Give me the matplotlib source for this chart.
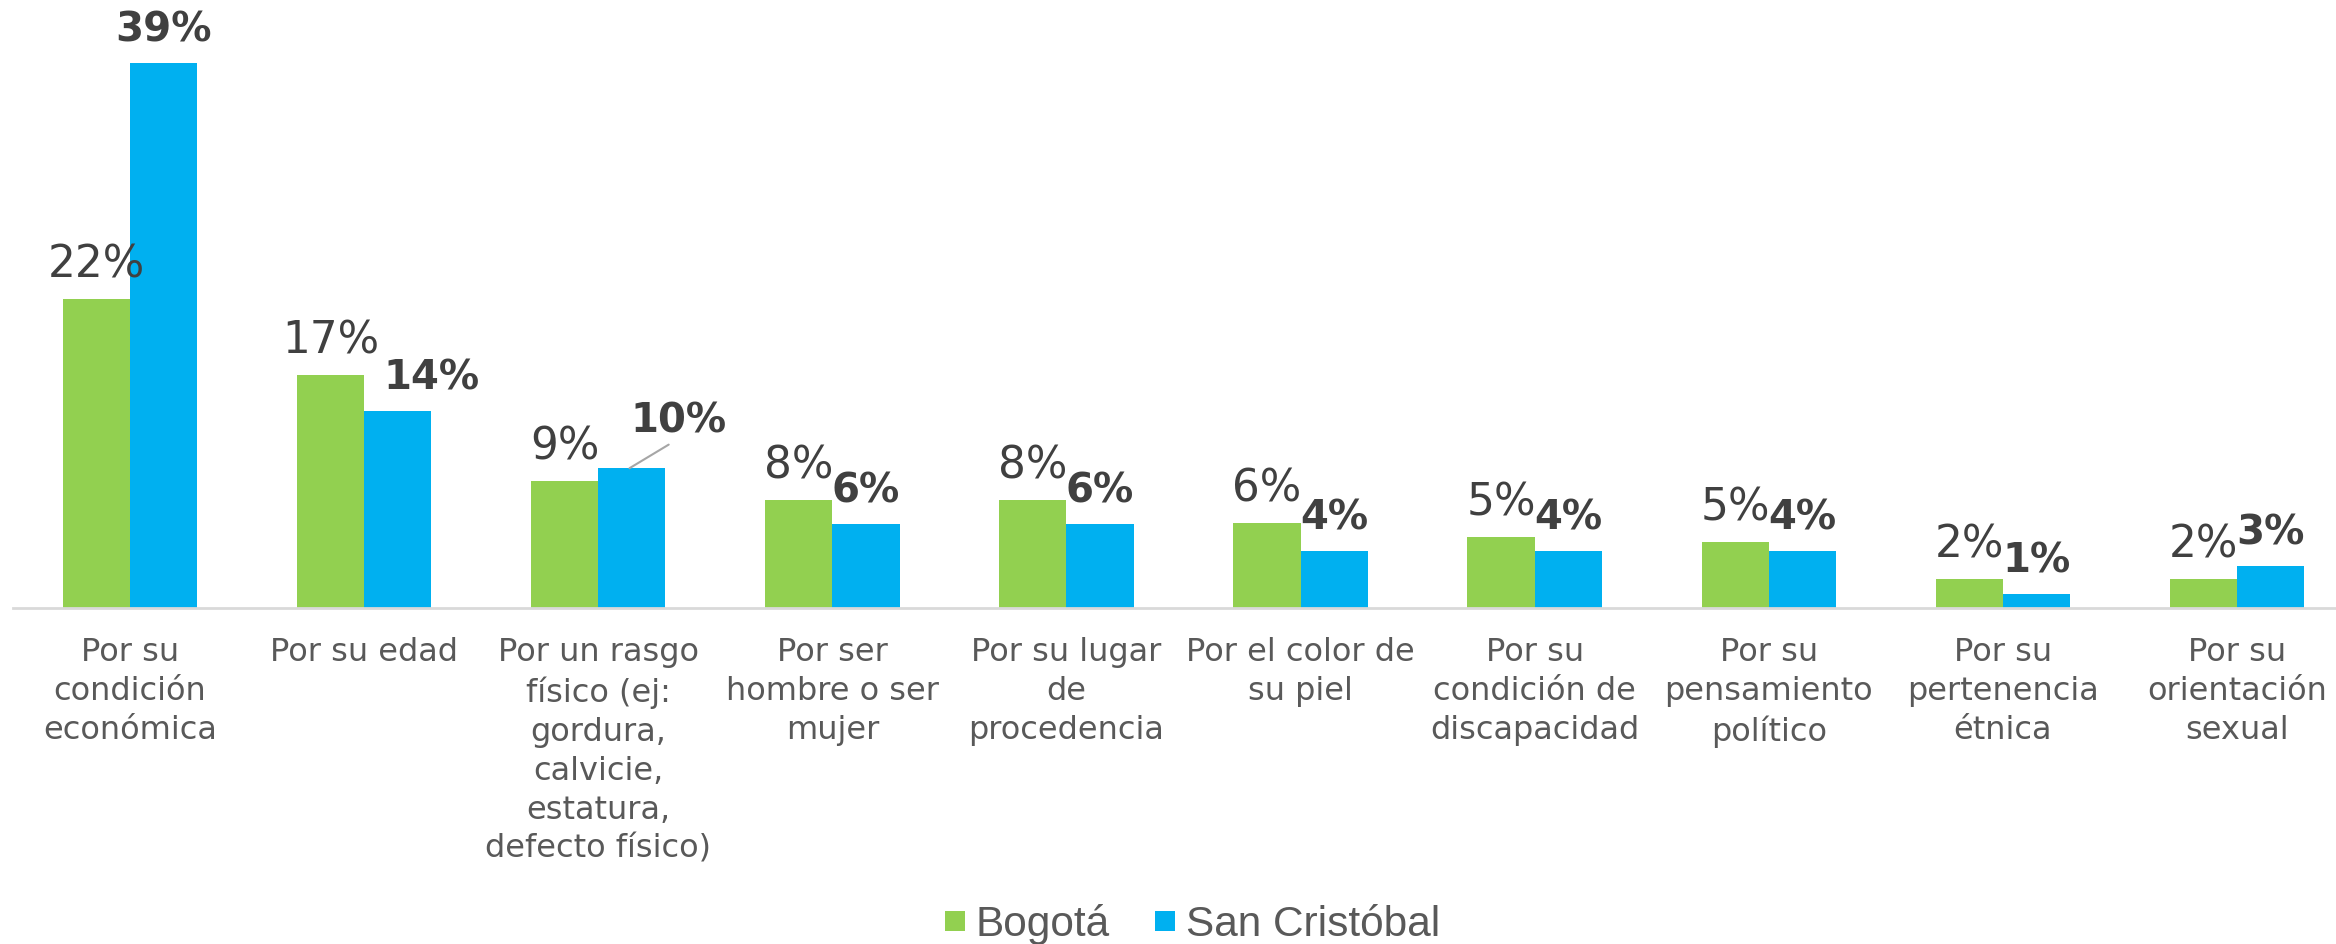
import matplotlib
matplotlib.use("Agg")
import matplotlib.pyplot as plt
import numpy as np
from matplotlib.lines import Line2D

categories = [
    "Por su\ncondición\neconómica",
    "Por su edad",
    "Por un rasgo\nfísico (ej:\ngordura,\ncalvicie,\nestatura,\ndefecto físico)",
    "Por ser\nhombre o ser\nmujer",
    "Por su lugar\nde\nprocedencia",
    "Por el color de\nsu piel",
    "Por su\ncondición de\ndiscapacidad",
    "Por su\npensamiento\npolítico",
    "Por su\npertenencia\nétnica",
    "Por su\norientación\nsexual",
]
bogota = [22.1, 16.7, 9.1, 7.7, 7.7, 6.1, 5.1, 4.7, 2.1, 2.1]
san_cristobal = [39.0, 14.1, 10.0, 6.0, 6.0, 4.1, 4.1, 4.1, 1.0, 3.0]
series_names = ["Bogotá", "San Cristóbal"]

GREEN = "#92D050"
BLUE = "#00B0F0"
DARK = "#404040"
GREY = "#595959"

W, H, DPI = 2336, 944, 100
fig = plt.figure(figsize=(W / DPI, H / DPI), dpi=DPI)
ax = fig.add_axes([13 / W, 1 - 608 / H, (2354 - 13) / W, 608 / H])

x = np.arange(len(categories))
bw = 0.287
ax.bar(x - bw / 2, bogota, bw, color=GREEN, zorder=2)
ax.bar(x + bw / 2, san_cristobal, bw, color=BLUE, zorder=2)

ax.set_xlim(-0.5, len(categories) - 0.5)
ax.set_ylim(0, 43.5)

for xi, v in zip(x, bogota):
    ax.annotate(f"{v:.0f}%", (xi - bw / 2, v), xytext=(0, 9), textcoords="offset points",
                ha="center", va="bottom", fontsize=31.5, color=DARK)

for i, (xi, v) in enumerate(zip(x, san_cristobal)):
    if i == 1:
        ax.annotate(f"{v:.0f}%", (xi + bw / 2, v), xytext=(24, 9), textcoords="offset points",
                    ha="center", va="bottom", fontsize=29, fontweight="bold", color=DARK)
    elif i == 2:
        ax.annotate(f"{v:.0f}%", (xi + bw / 2 - 0.01, v), xytext=(35, 19), textcoords="offset points",
                    ha="center", va="bottom", fontsize=29, fontweight="bold", color=DARK,
                    arrowprops=dict(arrowstyle="-", color="#a6a6a6", lw=1.5,
                                    shrinkA=0, shrinkB=0, relpos=(0.45, 0)))
    else:
        ax.annotate(f"{v:.0f}%", (xi + bw / 2, v), xytext=(0, 9), textcoords="offset points",
                    ha="center", va="bottom", fontsize=29, fontweight="bold", color=DARK)

ax.set_xticks(x)
ax.set_xticklabels(categories, fontsize=23, color=GREY, linespacing=1.33, va="top")
ax.tick_params(axis="x", length=0, pad=21)
ax.set_yticks([])
for s in ["top", "right", "left"]:
    ax.spines[s].set_visible(False)
ax.spines["bottom"].set_color("#d9d9d9")
ax.spines["bottom"].set_linewidth(2)

handles = [
    Line2D([], [], marker="s", linestyle="none", markersize=14, color=GREEN, markeredgewidth=0),
    Line2D([], [], marker="s", linestyle="none", markersize=14, color=BLUE, markeredgewidth=0),
]
fig.legend(handles, series_names, loc="center", bbox_to_anchor=(0.51, 0.021), ncol=2,
           frameon=False, handlelength=0.6, handletextpad=0.2, columnspacing=1.0,
           prop={"family": "Liberation Sans", "size": 30.5}, labelcolor=GREY)

fig.savefig("out.png", dpi=DPI)
